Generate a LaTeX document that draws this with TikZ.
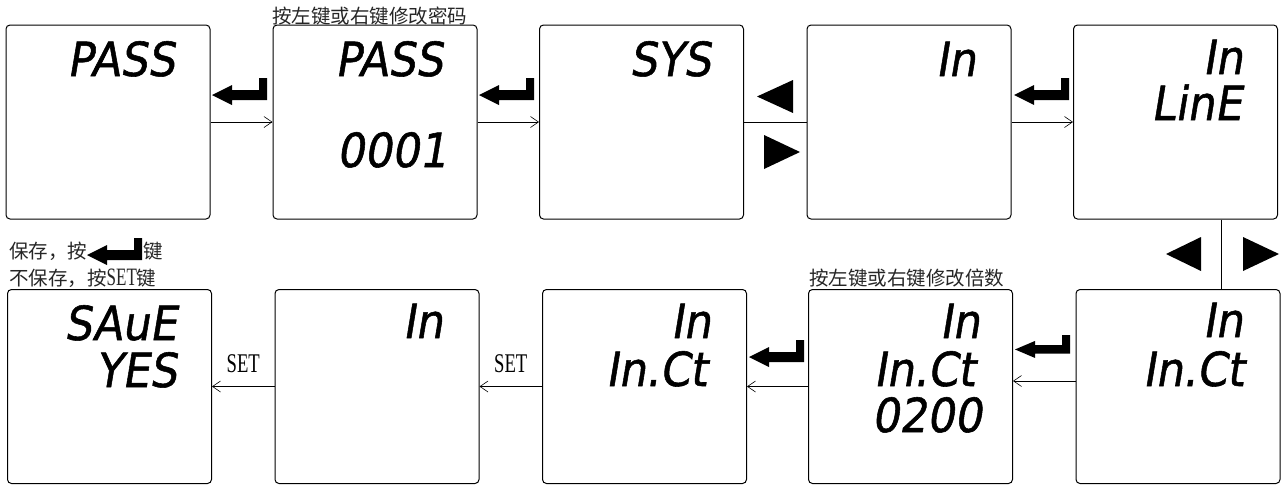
\documentclass[tikz,border=0pt]{standalone}
\usepackage{fontspec}
\usepackage{graphicx}
\usetikzlibrary{arrows.meta,calc}
\newfontfamily\cjk{Noto Sans CJK SC}
\newfontfamily\segfont{DejaVu Sans}[FakeSlant=0.18,FakeBold=1.2]
\newfontfamily\latinserif{Liberation Serif}
\newcommand{\segtxt}[1]{\scalebox{0.92}[1]{#1}}
\begin{document}
\begin{tikzpicture}[x=1pt,y=-1pt,
  screen/.style={draw, line width=1pt, rounded corners=4pt, minimum width=204pt, minimum height=194pt, inner sep=0pt},
  seg/.style={anchor=base east, inner sep=0pt, font=\segfont\fontsize{47}{47}\selectfont},
  conn/.style={line width=0.7pt, -{Straight Barb[length=8pt,width=11pt,line width=0.6pt]}},
  plainconn/.style={line width=0.7pt},
  note/.style={anchor=west, inner sep=0pt, font=\cjk\fontsize{19.5}{20}\selectfont, text=black!85},
  lbl/.style={inner sep=0pt, anchor=south, font=\latinserif\fontsize{27}{27}\selectfont},
  enterkey/.pic={\fill (0,17)--(20,7)--(20,12)--(47,12)--(47,0)--(55,0)--(55,22)--(20,22)--(20,27)--cycle;}
]
\useasboundingbox (0,0) rectangle (1283,485);

% screens, top row
\node[screen] (b1) at (108,122) {};
\node[screen] (b2) at (375,122) {};
\node[screen] (b3) at (641.5,122) {};
\node[screen] (b4) at (909,122) {};
\node[screen] (b5) at (1175.5,122) {};
% screens, bottom row
\node[screen] (b6) at (109.5,386.5) {};
\node[screen] (b7) at (377,386.5) {};
\node[screen] (b8) at (644.5,386.5) {};
\node[screen] (b9) at (910.5,386.5) {};
\node[screen] (b10) at (1178,386.5) {};

% display texts
\node[seg] (t1) at (175,76) {\segtxt{PASS}};
\node[seg] (t2a) at (443,76) {\segtxt{PASS}};
\node[seg] (t2b) at (447,167) {\segtxt{0001}};
\node[seg] (t3) at (711,76) {\segtxt{SYS}};
\node[seg] (t4) at (976,76) {\segtxt{In}};
\node[seg] (t5a) at (1243,74) {\segtxt{In}};
\node[seg] (t5b) at (1242,120) {\segtxt{LinE}};
\node[seg] (t6a) at (177,340) {\segtxt{SAuE}};
\node[seg] (t6b) at (177,387) {\segtxt{YES}};
\node[seg] (t7) at (443,338) {\segtxt{In}};
\node[seg] (t8a) at (711,338) {\segtxt{In}};
\node[seg] (t8b) at (707,386) {\segtxt{In.Ct}};
\node[seg] (t9a) at (980,338) {\segtxt{In}};
\node[seg] (t9b) at (975,386) {\segtxt{In.Ct}};
\node[seg] (t9c) at (982,432) {\segtxt{0200}};
\node[seg] (t10a) at (1243,337) {\segtxt{In}};
\node[seg] (t10b) at (1244,386) {\segtxt{In.Ct}};

% notes
\node[note] (n1) at (272,16) {按左键或右键修改密码};
\node[note] (n2) at (809,278) {按左键或右键修改倍数};
\node[note] (n3) at (9,251) {保存，按};
\node[note] (n4) at (143,251) {键};
\node[note] (n5) at (9,278) {不保存，按{\latinserif\fontsize{25}{20}\selectfont\scalebox{0.68}[1]{SET}}键};

% connectors
\draw[conn] (b1.east) -- (b2.west);
\draw[conn] (b2.east) -- (b3.west);
\draw[plainconn] (b3.east) -- (b4.west);
\draw[conn] (b4.east) -- (b5.west);
\coordinate (vx) at (1221,0);
\draw[plainconn] (b5.south -| vx) -- (b10.north -| vx);
\coordinate (a10) at ($(b10.west)+(0,-5.5)$);
\draw[conn] (a10) -- (a10 -| b9.east);
\draw[conn] (b9.west) -- (b8.east);
\draw[conn] (b8.west) -- node[lbl, above=13pt] {\scalebox{0.69}[1]{SET}} (b7.east);
\draw[conn] (b7.west) -- node[lbl, above=13pt] {\scalebox{0.69}[1]{SET}} (b6.east);

% enter keys
\pic at (212,78) {enterkey};
\pic at (479,78) {enterkey};
\pic at (1014,78) {enterkey};
\pic at (749,340) {enterkey};
\pic[yscale=0.85] at (1015,335) {enterkey};
\pic at (87,238) {enterkey};

% arrow keys
\fill (757,96.5) -- (793,80) -- (793,113) -- cycle;
\fill (764,135) -- (764,169) -- (800,152) -- cycle;
\fill (1166,254) -- (1201,237) -- (1201,271) -- cycle;
\fill (1243,237) -- (1243,271) -- (1279,254) -- cycle;
\end{tikzpicture}
\end{document}
